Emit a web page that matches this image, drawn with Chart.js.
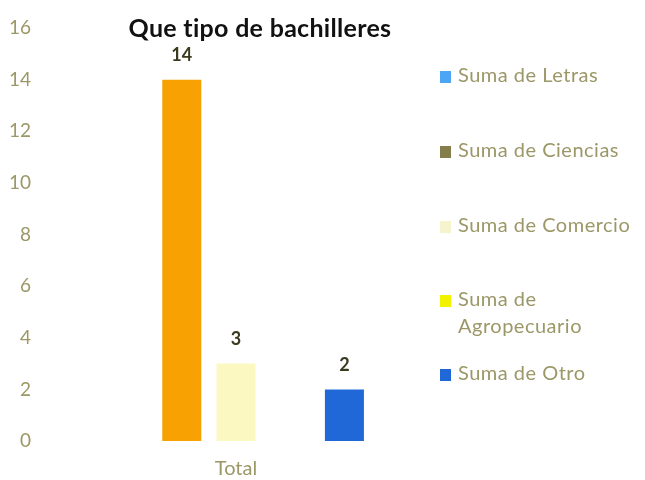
<!DOCTYPE html>
<html>
<head>
<meta charset="utf-8">
<script src="https://cdn.jsdelivr.net/npm/chart.js@4.4.0/dist/chart.umd.min.js"></script>
<style>
  body { margin: 0; background: #fff; }
  #wrap { position: relative; width: 645px; height: 480px; font-family: Lato, 'Open Sans', sans-serif; }
  #title { position: absolute; left: 0; width: 520px; top: 12px; text-align: center; font-weight: bold; font-size: 25px; letter-spacing: 0.3px; color: #111; }
  #legend { position: absolute; left: 440px; top: 0; }
  .item { position: absolute; left: 0; width: 205px; font-size: 20px; letter-spacing: 0.5px; color: #9b9767; line-height: 27px; white-space: nowrap; }
  .box { display: inline-block; width: 11px; height: 12px; margin-right: 7px; vertical-align: -1px; }
</style>
</head>
<body>
<div id="wrap">
  <canvas id="chart" width="645" height="480"></canvas>
  <div id="title">Que tipo de bachilleres</div>
  <div id="legend"></div>
</div>
<script>
const categories = ['Total'];
const seriesNames = ['Suma de Letras', 'Suma de Ciencias', 'Suma de Comercio', 'Suma de Agropecuario', 'Suma de Otro'];
const seriesValues = [0, 14, 3, 0, 2];
const barColors = ['#4da6f5', '#f7a102', '#fbf8c2', '#f2f200', '#2068d8'];
const legendColors = ['#4da6f5', '#847e4c', '#f6f4cc', '#f2f200', '#2068d8'];
const yTicks = [0, 2, 4, 6, 8, 10, 12, 14, 16];

// draw value labels above non-zero bars
const valueLabels = {
  id: 'valueLabels',
  afterDatasetsDraw(chart) {
    let ctx = chart.ctx;
    ctx.save();
    ctx.font = 'bold 18px Lato, sans-serif';
    ctx.fillStyle = '#3a3a1e';
    ctx.textAlign = 'center';
    ctx.textBaseline = 'bottom';
    chart.data.datasets.forEach((ds, i) => {
      let meta = chart.getDatasetMeta(i);
      meta.data.forEach((bar, j) => {
        let v = ds.data[j];
        if(v > 0) {
          ctx.fillText(String(v), bar.x, bar.y - 15);
        }
      });
    });
    ctx.restore();
  }
};

new Chart(document.getElementById('chart'), {
  type: 'bar',
  data: {
    labels: categories,
    datasets: seriesNames.map((name, i) => ({
      label: name,
      data: [seriesValues[i]],
      backgroundColor: barColors[i],
      categoryPercentage: 0.77,
      barPercentage: 0.72
    }))
  },
  options: {
    responsive: false,
    animation: false,
    layout: { padding: { top: 28, right: 233, bottom: 0, left: 0 } },
    plugins: {
      legend: { display: false },
      title: { display: false },
      tooltip: { enabled: false }
    },
    scales: {
      x: {
        afterFit: (scale) => { scale.height = 39; },
        grid: { display: false },
        border: { display: false },
        ticks: { color: '#9b9767', font: { family: 'Lato', size: 20 }, padding: 8 }
      },
      y: {
        min: 0,
        max: 16,
        afterFit: (scale) => {
          scale.width = 60;
          scale.paddingTop = 0;
        },
        afterBuildTicks: (scale) => { scale.ticks = yTicks.map(v => ({ value: v })); },
        grid: { display: false },
        border: { display: false },
        ticks: { color: '#9b9767', font: { family: 'Lato', size: 19 }, padding: 21 }
      }
    }
  },
  plugins: [valueLabels]
});

// html legend on the right
const legendTops = [61, 136, 211, 285, 359];
let legend = document.getElementById('legend');
seriesNames.forEach((name, i) => {
  let div = document.createElement('div');
  div.className = 'item';
  div.style.top = legendTops[i] + 'px';
  let box = '<span class="box" style="background:' + legendColors[i] + '"></span>';
  if(name === 'Suma de Agropecuario') {
    div.innerHTML = box + 'Suma de<br><span style="padding-left:18px">Agropecuario</span>';
  } else {
    div.innerHTML = box + name;
  }
  legend.appendChild(div);
});
</script>
</body>
</html>
